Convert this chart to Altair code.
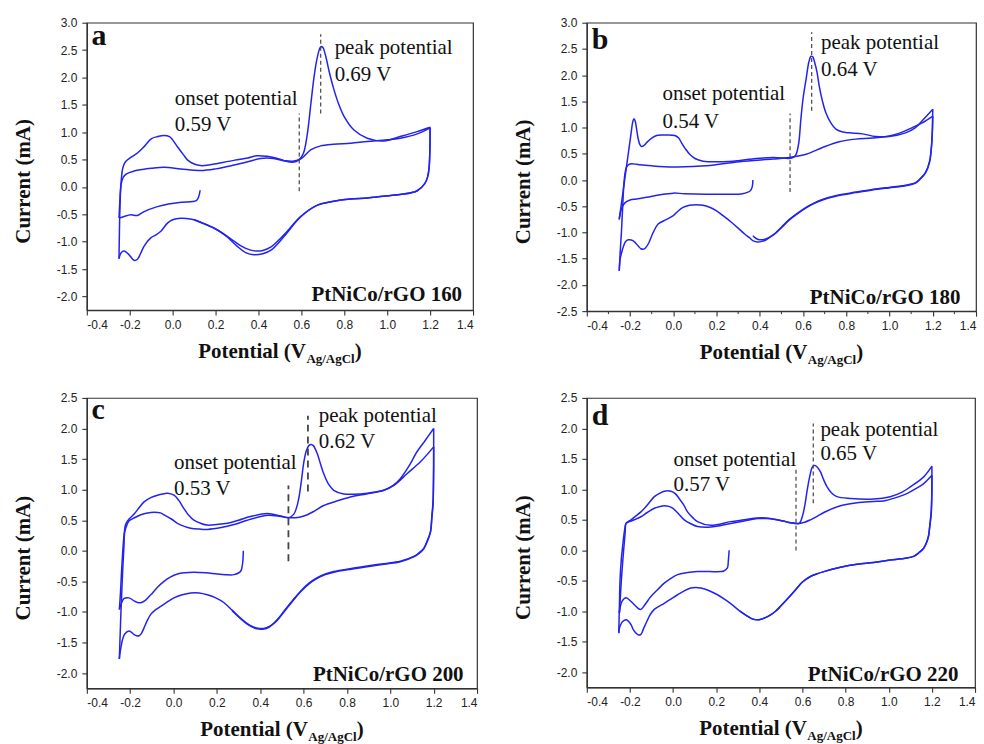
import altair as alt
import pandas as pd

# ---------------------------------------------------------------------------
# Cyclic voltammograms of PtNiCo/rGO catalysts (E in V vs Ag/AgCl, I in mA).
# Each sweep is stored as its own pair of arrays, in the order it was run.
# ---------------------------------------------------------------------------

# (a) PtNiCo/rGO 160
A_C0_E = [0.128, 0.122, 0.11, 0.04, -0.02, -0.071, -0.133, -0.164, -0.195, -0.226, -0.25]
A_C0_I = [-0.06, -0.17, -0.25, -0.28, -0.31, -0.36, -0.45, -0.52, -0.51, -0.54, -0.57]
A_A1_E = [-0.25, -0.246, -0.24, -0.232, -0.22, -0.195, -0.164, -0.13, -0.1, -0.07, -0.04,
          -0.015, 0.0, 0.025, 0.05, 0.07, 0.1, 0.13, 0.17, 0.21, 0.29, 0.35, 0.39, 0.44,
          0.48, 0.52, 0.56, 0.59, 0.61, 0.627, 0.645, 0.66, 0.675, 0.69, 0.70, 0.712,
          0.73, 0.75, 0.775, 0.80, 0.845, 0.907, 0.984, 1.06, 1.14, 1.2]
A_A1_I = [-0.57, -0.25, 0.1, 0.35, 0.46, 0.54, 0.62, 0.75, 0.88, 0.92, 0.94,
          0.92, 0.86, 0.72, 0.59, 0.49, 0.42, 0.39, 0.40, 0.43, 0.49, 0.53, 0.57, 0.56,
          0.53, 0.48, 0.45, 0.5, 0.62, 0.95, 1.55, 2.04, 2.38, 2.56, 2.55, 2.41,
          2.1, 1.8, 1.5, 1.28, 1.04, 0.89, 0.84, 0.92, 1.01, 1.09]
A_K1_E = [1.2, 1.199, 1.195, 1.188, 1.175, 1.14, 1.06, 0.98, 0.907, 0.83, 0.75, 0.67,
          0.596, 0.52, 0.457, 0.42, 0.39, 0.36, 0.32, 0.286, 0.24, 0.193, 0.14, 0.1,
          0.07, 0.038, 0.0, -0.024, -0.055, -0.08, -0.102, -0.133, -0.15, -0.164,
          -0.18, -0.203, -0.226, -0.24, -0.25]
A_K1_I = [1.09, 0.7, 0.34, 0.18, 0.06, -0.07, -0.14, -0.17, -0.2, -0.22, -0.26, -0.34,
          -0.54, -0.87, -1.1, -1.16, -1.17, -1.15, -1.08, -0.99, -0.86, -0.75, -0.66, -0.6,
          -0.58, -0.57, -0.6, -0.66, -0.81, -0.88, -0.93, -1.08, -1.22, -1.32,
          -1.34, -1.24, -1.17, -1.2, -1.31]
A_A2_E = [-0.25, -0.248, -0.245, -0.24, -0.23, -0.215, -0.18, -0.14, -0.1, -0.04, 0.038,
          0.13, 0.2, 0.286, 0.35, 0.41, 0.47, 0.52, 0.56, 0.6, 0.645, 0.69, 0.75, 0.83,
          0.907, 1.0, 1.06, 1.14, 1.2]
A_A2_I = [-1.31, -0.8, -0.3, 0.05, 0.18, 0.24, 0.29, 0.32, 0.34, 0.36, 0.33,
          0.30, 0.33, 0.40, 0.46, 0.52, 0.52, 0.48, 0.47, 0.52, 0.68, 0.75, 0.78, 0.80,
          0.83, 0.86, 0.89, 0.97, 1.08]
A_K2_E = [1.2, 1.199, 1.195, 1.188, 1.175, 1.14, 1.06, 0.98, 0.907, 0.83, 0.75, 0.67,
          0.596, 0.52, 0.46, 0.42, 0.38, 0.34, 0.3, 0.25, 0.2, 0.15, 0.1]
A_K2_I = [1.08, 0.7, 0.34, 0.18, 0.06, -0.07, -0.14, -0.17, -0.2, -0.22, -0.26, -0.34,
          -0.55, -0.9, -1.15, -1.22, -1.24, -1.2, -1.08, -0.9, -0.77, -0.68, -0.6]

# (b) PtNiCo/rGO 180
B_C0_E = [0.368, 0.365, 0.355, 0.32, 0.25, 0.153, 0.05, 0.0, -0.06, -0.124, -0.17, -0.2,
          -0.225, -0.24, -0.25]
B_C0_I = [0.0, -0.13, -0.21, -0.26, -0.27, -0.27, -0.26, -0.25, -0.28, -0.33, -0.36, -0.38,
          -0.44, -0.55, -0.75]
B_A1_E = [-0.25, -0.235, -0.22, -0.205, -0.195, -0.188, -0.182, -0.176, -0.17, -0.163,
          -0.155, -0.147, -0.135, -0.124, -0.1, -0.077, -0.05, -0.031, 0.007, 0.025, 0.038,
          0.055, 0.076, 0.1, 0.138, 0.23, 0.30, 0.383, 0.46, 0.51, 0.537, 0.555, 0.568,
          0.58, 0.59, 0.60, 0.614, 0.627, 0.637, 0.645, 0.652, 0.665, 0.675, 0.69, 0.706,
          0.73, 0.752, 0.78, 0.813, 0.875, 0.936, 0.998, 1.074, 1.12, 1.151, 1.2]
B_A1_I = [-0.75, -0.3, 0.15, 0.6, 0.9, 1.1, 1.17, 1.12, 0.98, 0.8,
          0.68, 0.64, 0.66, 0.71, 0.8, 0.85, 0.86, 0.86, 0.85, 0.8, 0.71,
          0.6, 0.49, 0.41, 0.36, 0.35, 0.37, 0.41, 0.43, 0.42, 0.41, 0.43, 0.49,
          0.7, 1.16, 1.55, 1.92, 2.25, 2.36, 2.35, 2.27, 2.05, 1.79, 1.5, 1.28,
          1.08, 0.97, 0.92, 0.9, 0.88, 0.83, 0.83, 0.9, 1.0, 1.13, 1.35]
B_K1_E = [1.2, 1.198, 1.193, 1.185, 1.166, 1.14, 1.12, 1.06, 0.998, 0.92, 0.844, 0.76,
          0.69, 0.65, 0.614, 0.575, 0.537, 0.5, 0.475, 0.45, 0.43, 0.41, 0.39, 0.37, 0.352,
          0.33, 0.306, 0.27, 0.23, 0.2, 0.168, 0.137, 0.107, 0.075, 0.045, 0.02, 0.0,
          -0.031, -0.07, -0.093, -0.116, -0.13, -0.139, -0.15, -0.162, -0.185, -0.208,
          -0.222, -0.23, -0.24, -0.246, -0.25]
B_K1_I = [1.35, 0.95, 0.6, 0.35, 0.14, 0.02, -0.05, -0.11, -0.14, -0.18, -0.23, -0.29,
          -0.37, -0.44, -0.52, -0.63, -0.75, -0.9, -1.0, -1.08, -1.14, -1.17, -1.18, -1.16,
          -1.1, -1.03, -0.94, -0.81, -0.68, -0.59, -0.52, -0.48, -0.47, -0.48, -0.52, -0.6,
          -0.68, -0.75, -0.84, -1.0, -1.22, -1.3, -1.32, -1.31, -1.26, -1.16, -1.14,
          -1.18, -1.26, -1.4, -1.51, -1.73]
B_A2_E = [-0.25, -0.246, -0.24, -0.234, -0.228, -0.222, -0.216, -0.205, -0.193, -0.17,
          -0.154, -0.1, 0.0, 0.153, 0.306, 0.46, 0.537, 0.614, 0.69, 0.767, 0.844, 0.92,
          0.998, 1.05, 1.09, 1.151, 1.2]
B_A2_I = [-1.73, -1.4, -1.0, -0.5, -0.05, 0.16, 0.25, 0.3, 0.31, 0.3,
          0.29, 0.27, 0.25, 0.27, 0.35, 0.40, 0.43, 0.49, 0.62, 0.73, 0.78, 0.8,
          0.84, 0.9, 0.97, 1.09, 1.22]
B_K2_E = [1.2, 1.198, 1.193, 1.185, 1.166, 1.14, 1.12, 1.06, 0.998, 0.92, 0.844, 0.76,
          0.69, 0.65, 0.614, 0.575, 0.537, 0.5, 0.475, 0.45, 0.43, 0.41, 0.39, 0.375, 0.368]
B_K2_I = [1.22, 0.9, 0.58, 0.34, 0.13, 0.01, -0.06, -0.12, -0.15, -0.19, -0.24, -0.3,
          -0.38, -0.45, -0.53, -0.64, -0.76, -0.91, -1.01, -1.08, -1.12, -1.14, -1.13,
          -1.09, -1.06]

# (c) PtNiCo/rGO 200
C_C0_E = [0.322, 0.318, 0.309, 0.279, 0.24, 0.202, 0.15, 0.094, 0.05, 0.018, -0.015, -0.044,
          -0.075, -0.105, -0.13, -0.151, -0.17, -0.182, -0.205, -0.228, -0.243, -0.25]
C_C0_I = [0.0, -0.22, -0.34, -0.39, -0.39, -0.38, -0.36, -0.35, -0.36, -0.38, -0.43, -0.5,
          -0.6, -0.72, -0.81, -0.85, -0.84, -0.82, -0.77, -0.78, -0.88, -0.96]
C_A1_E = [-0.25, -0.245, -0.24, -0.235, -0.231, -0.226, -0.22, -0.205, -0.182, -0.16, -0.136,
          -0.105, -0.074, -0.05, -0.028, 0.002, 0.025, 0.048, 0.07, 0.094, 0.125, 0.156, 0.2,
          0.248, 0.3, 0.355, 0.432, 0.494, 0.532, 0.555, 0.567, 0.578, 0.59, 0.601, 0.613,
          0.624, 0.635, 0.645, 0.663, 0.678, 0.693, 0.715, 0.739, 0.785, 0.862, 0.93, 0.97,
          1.01, 1.046, 1.085, 1.123, 1.16, 1.2]
C_A1_I = [-0.96, -0.7, -0.35, -0.05, 0.15, 0.33, 0.44, 0.52, 0.6, 0.7, 0.8,
          0.87, 0.91, 0.93, 0.94, 0.91, 0.82, 0.69, 0.58, 0.5, 0.45, 0.42, 0.43,
          0.45, 0.5, 0.56, 0.61, 0.57, 0.54, 0.6, 0.7, 0.86, 1.15, 1.45, 1.64,
          1.72, 1.74, 1.72, 1.59, 1.42, 1.26, 1.09, 0.99, 0.93, 0.93, 0.96, 0.99,
          1.06, 1.18, 1.38, 1.62, 1.8, 2.0]
C_K1_E = [1.2, 1.2, 1.199, 1.197, 1.192, 1.185, 1.17, 1.154, 1.13, 1.108, 1.046, 0.97,
          0.893, 0.82, 0.739, 0.7, 0.663, 0.625, 0.586, 0.55, 0.509, 0.485, 0.463, 0.44,
          0.417, 0.395, 0.371, 0.34, 0.309, 0.27, 0.233, 0.195, 0.156, 0.118, 0.079, 0.04,
          0.002, -0.03, -0.059, -0.085, -0.105, -0.12, -0.136, -0.148, -0.159, -0.17,
          -0.182, -0.205, -0.225, -0.235, -0.24, -0.246, -0.25]
C_K1_I = [2.0, 1.6, 1.13, 0.8, 0.59, 0.31, 0.16, 0.04, -0.04, -0.09, -0.17, -0.21,
          -0.25, -0.29, -0.34, -0.38, -0.44, -0.53, -0.66, -0.81, -0.99, -1.1, -1.18, -1.24,
          -1.27, -1.27, -1.25, -1.19, -1.1, -0.97, -0.85, -0.77, -0.72, -0.69, -0.69, -0.72,
          -0.77, -0.84, -0.91, -0.97, -1.04, -1.13, -1.26, -1.35, -1.39, -1.39,
          -1.37, -1.31, -1.36, -1.45, -1.53, -1.65, -1.77]
C_A2_E = [-0.25, -0.247, -0.243, -0.238, -0.234, -0.229, -0.225, -0.215, -0.205, -0.18,
          -0.151, -0.12, -0.09, -0.06, -0.044, -0.01, 0.018, 0.05, 0.079, 0.12, 0.156, 0.22,
          0.279, 0.34, 0.402, 0.44, 0.478, 0.54, 0.58, 0.617, 0.65, 0.693, 0.75, 0.816,
          0.89, 0.97, 1.02, 1.077, 1.14, 1.2]
C_A2_I = [-1.77, -1.45, -1.04, -0.6, -0.28, 0.05, 0.31, 0.42, 0.49, 0.54,
          0.59, 0.62, 0.63, 0.62, 0.59, 0.52, 0.45, 0.4, 0.37, 0.355, 0.35, 0.38,
          0.43, 0.5, 0.56, 0.58, 0.57, 0.54, 0.55, 0.59, 0.65, 0.74, 0.81, 0.88,
          0.93, 0.99, 1.08, 1.26, 1.46, 1.7]
C_K2_E = [1.2, 1.2, 1.199, 1.197, 1.192, 1.185, 1.17, 1.154, 1.13, 1.108, 1.046, 0.97,
          0.893, 0.82, 0.739, 0.7, 0.663, 0.625, 0.586, 0.55, 0.509, 0.485, 0.463, 0.44,
          0.417, 0.395, 0.371, 0.34, 0.309, 0.27]
C_K2_I = [1.7, 1.4, 1.05, 0.75, 0.55, 0.3, 0.15, 0.03, -0.05, -0.1, -0.18, -0.22,
          -0.26, -0.3, -0.35, -0.39, -0.45, -0.54, -0.67, -0.82, -1.0, -1.11, -1.19, -1.25,
          -1.28, -1.28, -1.26, -1.2, -1.11, -0.98]

# (d) PtNiCo/rGO 220
D_C0_E = [0.26, 0.256, 0.252, 0.235, 0.221, 0.17, 0.113, 0.06, 0.021, -0.01, -0.041, -0.07,
          -0.103, -0.13, -0.149, -0.16, -0.172, -0.195, -0.218, -0.237, -0.245, -0.249]
D_C0_I = [0.0, -0.18, -0.29, -0.34, -0.35, -0.35, -0.35, -0.37, -0.40, -0.46, -0.54, -0.64,
          -0.76, -0.89, -0.97, -0.96, -0.92, -0.84, -0.78, -0.84, -0.93, -1.03]
D_A1_E = [-0.249, -0.245, -0.24, -0.234, -0.228, -0.222, -0.218, -0.203, -0.18, -0.149,
          -0.12, -0.087, -0.06, -0.041, -0.02, -0.002, 0.025, 0.052, 0.08, 0.113, 0.175,
          0.267, 0.33, 0.391, 0.43, 0.468, 0.51, 0.545, 0.57, 0.583, 0.61, 0.637, 0.67,
          0.699, 0.776, 0.853, 0.93, 0.976, 1.03, 1.084, 1.13, 1.161, 1.2]
D_A1_I = [-1.03, -0.8, -0.5, -0.21, 0.05, 0.3, 0.44, 0.47, 0.5, 0.55,
          0.62, 0.69, 0.72, 0.73, 0.72, 0.69, 0.6, 0.5, 0.44, 0.39, 0.38,
          0.44, 0.48, 0.52, 0.52, 0.51, 0.48, 0.45, 0.44, 0.44, 0.46, 0.5, 0.56,
          0.62, 0.73, 0.78, 0.8, 0.81, 0.86, 0.93, 1.02, 1.09, 1.23]
D_K1_E = [1.2, 1.2, 1.197, 1.19, 1.184, 1.172, 1.161, 1.14, 1.115, 1.06, 1.007, 0.93,
          0.853, 0.776, 0.699, 0.665, 0.637, 0.6, 0.575, 0.535, 0.498, 0.475, 0.452, 0.425,
          0.398, 0.37, 0.344, 0.31, 0.283, 0.245, 0.206, 0.165, 0.129, 0.105, 0.082, 0.05,
          0.021, -0.01, -0.041, -0.065, -0.087, -0.105, -0.118, -0.135, -0.149, -0.16,
          -0.172, -0.185, -0.195, -0.208, -0.218, -0.234, -0.243, -0.249, -0.252]
D_K1_I = [1.23, 0.95, 0.6, 0.38, 0.22, 0.1, 0.03, -0.04, -0.1, -0.14, -0.16, -0.2,
          -0.23, -0.28, -0.35, -0.39, -0.43, -0.52, -0.62, -0.78, -0.92, -1.0, -1.06, -1.11,
          -1.14, -1.13, -1.08, -1.0, -0.92, -0.82, -0.73, -0.66, -0.62, -0.61, -0.62, -0.67,
          -0.73, -0.8, -0.87, -0.92, -0.97, -1.05, -1.14, -1.27, -1.38, -1.39,
          -1.36, -1.3, -1.22, -1.16, -1.14, -1.17, -1.22, -1.28, -1.36]
D_A2_E = [-0.252, -0.249, -0.246, -0.24, -0.234, -0.226, -0.218, -0.195, -0.17, -0.149,
          -0.12, -0.087, -0.06, -0.041, -0.01, 0.01, 0.028, 0.05, 0.067, 0.09, 0.113, 0.175,
          0.267, 0.33, 0.391, 0.43, 0.468, 0.51, 0.545, 0.57, 0.585, 0.599, 0.61, 0.622,
          0.633, 0.645, 0.653, 0.66, 0.67, 0.683, 0.698, 0.714, 0.735, 0.76, 0.822, 0.93,
          1.007, 1.06, 1.1, 1.161, 1.2]
D_A2_I = [-1.36, -0.95, -0.5, -0.15, 0.06, 0.3, 0.44, 0.5, 0.57, 0.63,
          0.74, 0.88, 0.94, 0.97, 0.97, 0.93, 0.85, 0.74, 0.63, 0.54, 0.47, 0.41,
          0.47, 0.5, 0.53, 0.53, 0.51, 0.48, 0.45, 0.44, 0.44, 0.55, 0.72, 0.99,
          1.2, 1.36, 1.39, 1.39, 1.36, 1.29, 1.16, 1.04, 0.94, 0.88, 0.85, 0.84,
          0.88, 0.95, 1.04, 1.2, 1.38]
D_K2_E = [1.2, 1.2, 1.197, 1.19, 1.184, 1.172, 1.161, 1.14, 1.115, 1.06, 1.007, 0.93,
          0.853, 0.776, 0.699, 0.665, 0.637, 0.6, 0.575, 0.535, 0.498, 0.475, 0.452, 0.425,
          0.398, 0.37, 0.344, 0.31]
D_K2_I = [1.38, 1.05, 0.65, 0.4, 0.23, 0.1, 0.03, -0.04, -0.1, -0.14, -0.16, -0.2,
          -0.23, -0.28, -0.35, -0.39, -0.43, -0.52, -0.62, -0.78, -0.92, -1.0, -1.06, -1.11,
          -1.14, -1.13, -1.08, -1.0]

SAMPLES = ["PtNiCo/rGO 160", "PtNiCo/rGO 180", "PtNiCo/rGO 200", "PtNiCo/rGO 220"]
LETTERS = ["a", "b", "c", "d"]
ONSET_V = [0.59, 0.54, 0.53, 0.57]
PEAK_V = [0.69, 0.64, 0.62, 0.65]

X_TICKS = [-0.4, -0.2, 0.0, 0.2, 0.4, 0.6, 0.8, 1.0, 1.2, 1.4]
X_MINOR = [-0.3, -0.1, 0.1, 0.3, 0.5, 0.7, 0.9, 1.1, 1.3]
Y_TICKS_AB = [-2.5, -2.0, -1.5, -1.0, -0.5, 0.0, 0.5, 1.0, 1.5, 2.0, 2.5, 3.0]
Y_TICKS_CD = [-2.0, -1.5, -1.0, -0.5, 0.0, 0.5, 1.0, 1.5, 2.0, 2.5]

SWEEPS = [
    [(A_C0_E, A_C0_I), (A_A1_E, A_A1_I), (A_K1_E, A_K1_I), (A_A2_E, A_A2_I), (A_K2_E, A_K2_I)],
    [(B_C0_E, B_C0_I), (B_A1_E, B_A1_I), (B_K1_E, B_K1_I), (B_A2_E, B_A2_I), (B_K2_E, B_K2_I)],
    [(C_C0_E, C_C0_I), (C_A1_E, C_A1_I), (C_K1_E, C_K1_I), (C_A2_E, C_A2_I), (C_K2_E, C_K2_I)],
    [(D_C0_E, D_C0_I), (D_A1_E, D_A1_I), (D_K1_E, D_K1_I), (D_A2_E, D_A2_I), (D_K2_E, D_K2_I)],
]

# ---- panel geometry and annotation placement ------------------------------
LAYOUT = [
    dict(w=387, h=288, ydom=[-2.25, 3.0], yt=[t for t in Y_TICKS_AB if t >= -2.0],
         onset_y=(-0.08, 1.34), peak_y=(1.34, 2.79), dash=[4, 3], dash_w=1.2,
         onset_txt=(0.01, 1.50, 1.03), peak_txt=(0.755, 2.42, 1.93),
         letter=(-0.378, 2.59), sample=(1.349, -2.08), minor=False),
    dict(w=390, h=289, ydom=[-2.5, 3.0], yt=Y_TICKS_AB,
         onset_y=(-0.23, 1.27), peak_y=(1.32, 2.82), dash=[4, 3], dash_w=1.2,
         onset_txt=(-0.05, 1.53, 1.0), peak_txt=(0.683, 2.49, 1.98),
         letter=(-0.377, 2.5), sample=(1.328, -2.37), minor=True),
    dict(w=391, h=291, ydom=[-2.25, 2.5], yt=Y_TICKS_CD,
         onset_y=(-0.17, 1.07), peak_y=(0.97, 2.21), dash=[7, 5], dash_w=1.8,
         onset_txt=(0.002, 1.33, 0.91), peak_txt=(0.67, 2.10, 1.68),
         letter=(-0.379, 2.15), sample=(1.338, -2.13), minor=False),
    dict(w=389, h=290, ydom=[-2.25, 2.5], yt=Y_TICKS_CD,
         onset_y=(-0.005, 1.34), peak_y=(0.77, 2.08), dash=[4, 3], dash_w=1.2,
         onset_txt=(0.002, 1.38, 0.97), peak_txt=(0.683, 1.88, 1.48),
         letter=(-0.377, 2.06), sample=(1.323, -2.146), minor=False),
]

BLUE = "#2323f0"
SERIF = "Liberation Serif"
SANS = "Liberation Sans"
INK = "#111111"
MINUS_FIX = "replace(datum.label, '\u2212', '-')"


def sweep_frame(segments):
    rows = []
    for s, (E, I) in enumerate(segments):
        for k, (e, i) in enumerate(zip(E, I)):
            rows.append({"E": e, "I": i, "seg": s, "k": k})
    return pd.DataFrame(rows)


def panel(idx, canvas_anchor=False):
    L = LAYOUT[idx]
    w, h = L["w"], L["h"]
    # one shared definition of both axes, reused by every data layer
    xenc = alt.X("E:Q", scale=alt.Scale(domain=[-0.4, 1.4], nice=False, zero=False),
                 axis=alt.Axis(values=X_TICKS, format=".1f", labelExpr=MINUS_FIX,
                               title=None, labelPadding=4))
    yenc = alt.Y("I:Q", scale=alt.Scale(domain=L["ydom"], nice=False, zero=False),
                 axis=alt.Axis(values=L["yt"], format=".1f", labelExpr=MINUS_FIX,
                               title=None, labelPadding=5))

    curves = alt.Chart(sweep_frame(SWEEPS[idx])).mark_line(
        interpolate="catmull-rom", color=BLUE, strokeWidth=1.5
    ).encode(x=xenc, y=yenc, detail="seg:N", order="k:Q")

    dashes = alt.Chart(pd.DataFrame({
        "E": [ONSET_V[idx], PEAK_V[idx]],
        "I": [L["onset_y"][0], L["peak_y"][0]],
        "I2": [L["onset_y"][1], L["peak_y"][1]],
    })).mark_rule(strokeDash=L["dash"], strokeWidth=L["dash_w"], color="#444444").encode(
        x=xenc, y=yenc, y2=alt.Y2("I2:Q"))

    ox, oy1, oy2 = L["onset_txt"]
    px, py1, py2 = L["peak_txt"]
    notes = alt.Chart(pd.DataFrame({
        "E": [ox, ox, px, px],
        "I": [oy1, oy2, py1, py2],
        "t": ["onset potential", f"{ONSET_V[idx]:.2f} V",
              "peak potential", f"{PEAK_V[idx]:.2f} V"],
    })).mark_text(font=SERIF, fontSize=21, align="left", baseline="alphabetic",
                  color=INK).encode(x=xenc, y=yenc, text="t:N")

    letter = alt.Chart(pd.DataFrame({
        "E": [L["letter"][0]], "I": [L["letter"][1]], "t": [LETTERS[idx]]
    })).mark_text(font=SERIF, fontSize=30, fontWeight="bold", align="left",
                  baseline="alphabetic", color=INK).encode(x=xenc, y=yenc, text="t:N")

    sample = alt.Chart(pd.DataFrame({
        "E": [L["sample"][0]], "I": [L["sample"][1]], "t": [SAMPLES[idx]]
    })).mark_text(font=SERIF, fontSize=21, fontWeight="bold", align="right",
                  baseline="alphabetic", color=INK).encode(x=xenc, y=yenc, text="t:N")

    one = pd.DataFrame({"t": [""]})
    cx = w / 2
    ytitle = alt.Chart(one).mark_text(
        text="Current (mA)", font=SERIF, fontSize=21, fontWeight="bold", angle=270,
        align="center", baseline="alphabetic", color=INK
    ).encode(x=alt.value(-57), y=alt.value(h / 2 + 15))
    xtitle = alt.Chart(one).mark_text(
        text="Potential (V", font=SERIF, fontSize=21, fontWeight="bold",
        align="right", baseline="alphabetic", color=INK
    ).encode(x=alt.value(cx + 26), y=alt.value(h + 48))
    xsub = alt.Chart(one).mark_text(
        text="Ag/AgCl", font=SERIF, fontSize=13, fontWeight="bold",
        align="left", baseline="alphabetic", color=INK
    ).encode(x=alt.value(cx + 26.5), y=alt.value(h + 53))
    xparen = alt.Chart(one).mark_text(
        text=")", font=SERIF, fontSize=21, fontWeight="bold",
        align="left", baseline="alphabetic", color=INK
    ).encode(x=alt.value(cx + 75), y=alt.value(h + 48))

    layers = []
    if canvas_anchor:
        # transparent sheet spanning the page, fixes the overall drawing origin
        layers.append(alt.Chart(one).mark_rect(fill="white", fillOpacity=0, strokeOpacity=0)
                      .encode(x=alt.value(-86), x2=alt.value(898),
                              y=alt.value(-21), y2=alt.value(723)))
    layers += [curves, dashes, notes, letter, sample, ytitle, xtitle, xsub, xparen]
    if L["minor"]:
        layers.append(alt.Chart(pd.DataFrame({"E": X_MINOR})).mark_rule(
            color="#333333", strokeWidth=1).encode(
            x=xenc, y=alt.value(h), y2=alt.value(h + 3)))
    return alt.layer(*layers).properties(width=w, height=h)


chart = alt.concat(
    panel(0, canvas_anchor=True), panel(1), panel(2), panel(3),
    columns=2, spacing={"row": 87, "column": 110}, bounds="flush",
).properties(padding=0).configure_view(
    stroke="#333333", strokeWidth=1.2
).configure_axis(
    labelFont=SANS, labelFontSize=12, labelColor="#222222",
    domainColor="#333333", domainWidth=1.3, tickColor="#333333", tickWidth=1.1,
    tickSize=5, grid=False, labelOverlap=False
)

chart.save("out.html", embed_options={"renderer": "svg", "actions": False})
